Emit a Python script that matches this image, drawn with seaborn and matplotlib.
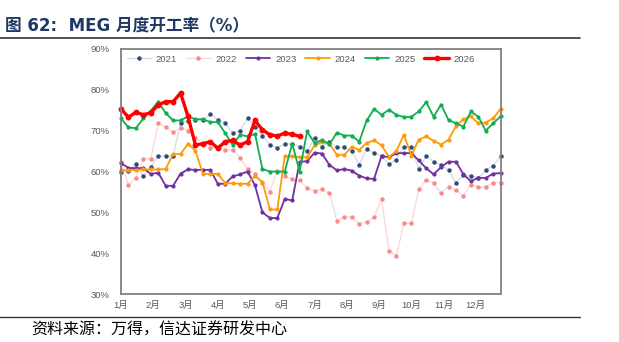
import numpy as np
import pandas as pd
import seaborn as sns
import matplotlib.pyplot as plt
from matplotlib.lines import Line2D

# weekly operating rate of MEG, one value per week
weeks = np.arange(52)
months = [f"{m}月" for m in range(1, 13)]
yticks = [30, 40, 50, 60, 70, 80, 90]

y2021 = [60.0, 60.2, 61.9, 58.8, 61.1, 63.8, 63.8, 63.8, 72.0, 72.3,
         72.6, 72.5, 74.0, 72.7, 71.8, 69.4, 70.0, 73.1, 71.0, 68.7,
         66.6, 65.8, 66.8, 66.7, 66.1, 64.9, 68.2, 66.1, 67.3, 65.9,
         65.9, 64.9, 61.7, 65.4, 64.6, 63.7, 61.9, 62.9, 66.1, 66.1,
         60.6, 63.8, 62.4, 61.6, 60.3, 57.2, 59.2, 58.9, 58.5, 60.3,
         61.4, 63.7]
y2022 = [62.4, 56.7, 58.5, 63.1, 63.1, 71.8, 70.9, 69.6, 70.7, 70.0,
         68.2, 66.9, 65.8, 65.8, 65.3, 65.3, 63.4, 60.6, 59.5, 57.3,
         55.1, 60.2, 58.8, 58.1, 57.8, 55.9, 55.2, 55.6, 54.7, 48.0,
         48.9, 48.8, 47.2, 47.7, 48.9, 53.3, 40.6, 39.4, 47.3, 47.3,
         55.6, 58.0, 57.2, 54.7, 56.3, 55.4, 54.0, 56.8, 56.2, 56.2,
         57.3, 57.3]
y2023 = [62.0, 60.9, 60.8, 60.8, 59.4, 59.7, 56.5, 56.5, 59.5, 60.5,
         60.4, 60.4, 60.4, 57.0, 57.0, 58.8, 59.3, 60.0, 56.6, 50.0,
         48.6, 48.6, 53.3, 52.9, 62.4, 62.5, 64.6, 64.4, 61.6, 60.3,
         60.6, 60.2, 59.0, 58.3, 58.2, 63.8, 63.5, 64.5, 64.5, 64.5,
         62.7, 60.8, 59.3, 61.1, 62.4, 62.4, 59.3, 57.6, 58.5, 58.4,
         59.5, 59.6]
y2024 = [60.3, 60.3, 60.4, 60.5, 60.5, 60.5, 60.6, 64.3, 64.3, 66.8,
         65.1, 59.4, 59.4, 59.4, 57.2, 57.1, 57.0, 57.0, 58.9, 57.4,
         50.7, 50.7, 63.8, 63.7, 63.5, 63.5, 66.4, 67.2, 66.8, 64.1,
         64.1, 66.0, 65.3, 67.0, 67.6, 66.4, 63.6, 65.0, 69.0, 63.9,
         67.8, 68.6, 67.5, 66.6, 67.8, 71.1, 72.8, 73.5, 71.8, 72.0,
         73.0, 75.4]
y2025 = [73.0, 70.8, 70.6, 73.0, 74.9, 77.1, 74.3, 72.5, 72.5, 73.5,
         72.8, 72.8, 72.1, 72.1, 69.4, 66.5, 69.0, 68.6, 69.2, 60.6,
         60.0, 60.0, 60.0, 66.8, 60.0, 69.8, 67.0, 67.7, 66.7, 69.5,
         68.8, 68.8, 67.3, 72.5, 75.3, 73.9, 75.1, 73.9, 73.3, 73.4,
         74.7, 77.0, 73.4, 76.4, 72.6, 71.8, 71.0, 74.7, 73.4, 70.0,
         71.8, 73.5]
y2026 = [75.3, 73.3, 74.5, 73.9, 74.4, 76.3, 77.1, 77.1, 79.2, 73.5,
         66.5, 66.8, 67.3, 65.7, 67.3, 67.6, 66.5, 67.3, 72.5, 70.2,
         69.0, 68.7, 69.4, 69.1, 68.6]

series = [
    ("2021", y2021, dict(color="#d3dae4", lw=0.9, markerfacecolor="#2e4a7d", ms=3.2)),
    ("2022", y2022, dict(color="#fbd6d6", lw=0.9, markerfacecolor="#f78b8b", ms=3.2)),
    ("2023", y2023, dict(color="#7030a0", lw=1.3, markerfacecolor="#7030a0", ms=3.0)),
    ("2024", y2024, dict(color="#ff9a0a", lw=1.3, markerfacecolor="#ff9a0a", ms=3.0)),
    ("2025", y2025, dict(color="#0fae50", lw=1.3, markerfacecolor="#0fae50", ms=3.0)),
    ("2026", y2026, dict(color="#ff0000", lw=2.4, markerfacecolor="#ff0000", ms=4.2)),
]

sns.set_theme(style="white")
plt.rcParams['font.family'] = ['Liberation Sans', 'Noto Sans CJK SC', 'DejaVu Sans']

fig = plt.figure(figsize=(6.19, 3.42), dpi=100)
ax = fig.add_axes([121/619, 1 - 294/342, 380/619, 245/342])

for year, vals, st in series:
    mfc = st.pop("markerfacecolor")
    sns.lineplot(x=weeks[:len(vals)], y=vals, ax=ax, label=year, marker="o",
                 markerfacecolor=mfc, markeredgecolor=mfc, markeredgewidth=0,
                 clip_on=False, **st)

ax.set_xlim(0, 51.05)
ax.set_ylim(30, 90)
ax.set_yticks(yticks)
ax.set_yticklabels([f"{v}%" for v in yticks])
ax.set_xticks(np.arange(12) * 52 / 12)
ax.set_xticklabels(months)
ax.tick_params(axis='y', length=0, pad=8, labelsize=6.8, labelcolor="#595959")
ax.tick_params(axis='x', length=0, pad=5, labelsize=6.8, labelcolor="#595959")
ax.set_xlabel("")
ax.set_ylabel("")
for s in ax.spines.values():
    s.set_color("#808080")
    s.set_linewidth(1.3)

ax.legend(loc="upper left", bbox_to_anchor=(0.0, 1.0), ncol=6, frameon=False,
          fontsize=6.8, labelcolor="#595959", handlelength=2.6, handletextpad=0.5,
          columnspacing=0.95, borderaxespad=0.2)

fig.text(5/619, 1 - 26/342, "图 62:  MEG 月度开工率（%）", fontsize=12, weight="bold",
         color="#1f3864", va="center", family=["DejaVu Sans", "Noto Sans CJK SC"])
fig.add_artist(Line2D([0, 580/619], [1 - 38/342] * 2, transform=fig.transFigure,
                      color="#333333", lw=1.2))
fig.add_artist(Line2D([0, 580/619], [1 - 317/342] * 2, transform=fig.transFigure,
                      color="#333333", lw=1.0))
fig.text(31/619, 1 - 330/342, "资料来源：万得，信达证券研发中心", fontsize=11.5,
         color="black", va="center", family=["Noto Sans CJK SC", "DejaVu Sans"])

fig.savefig("out.png", dpi=100)
